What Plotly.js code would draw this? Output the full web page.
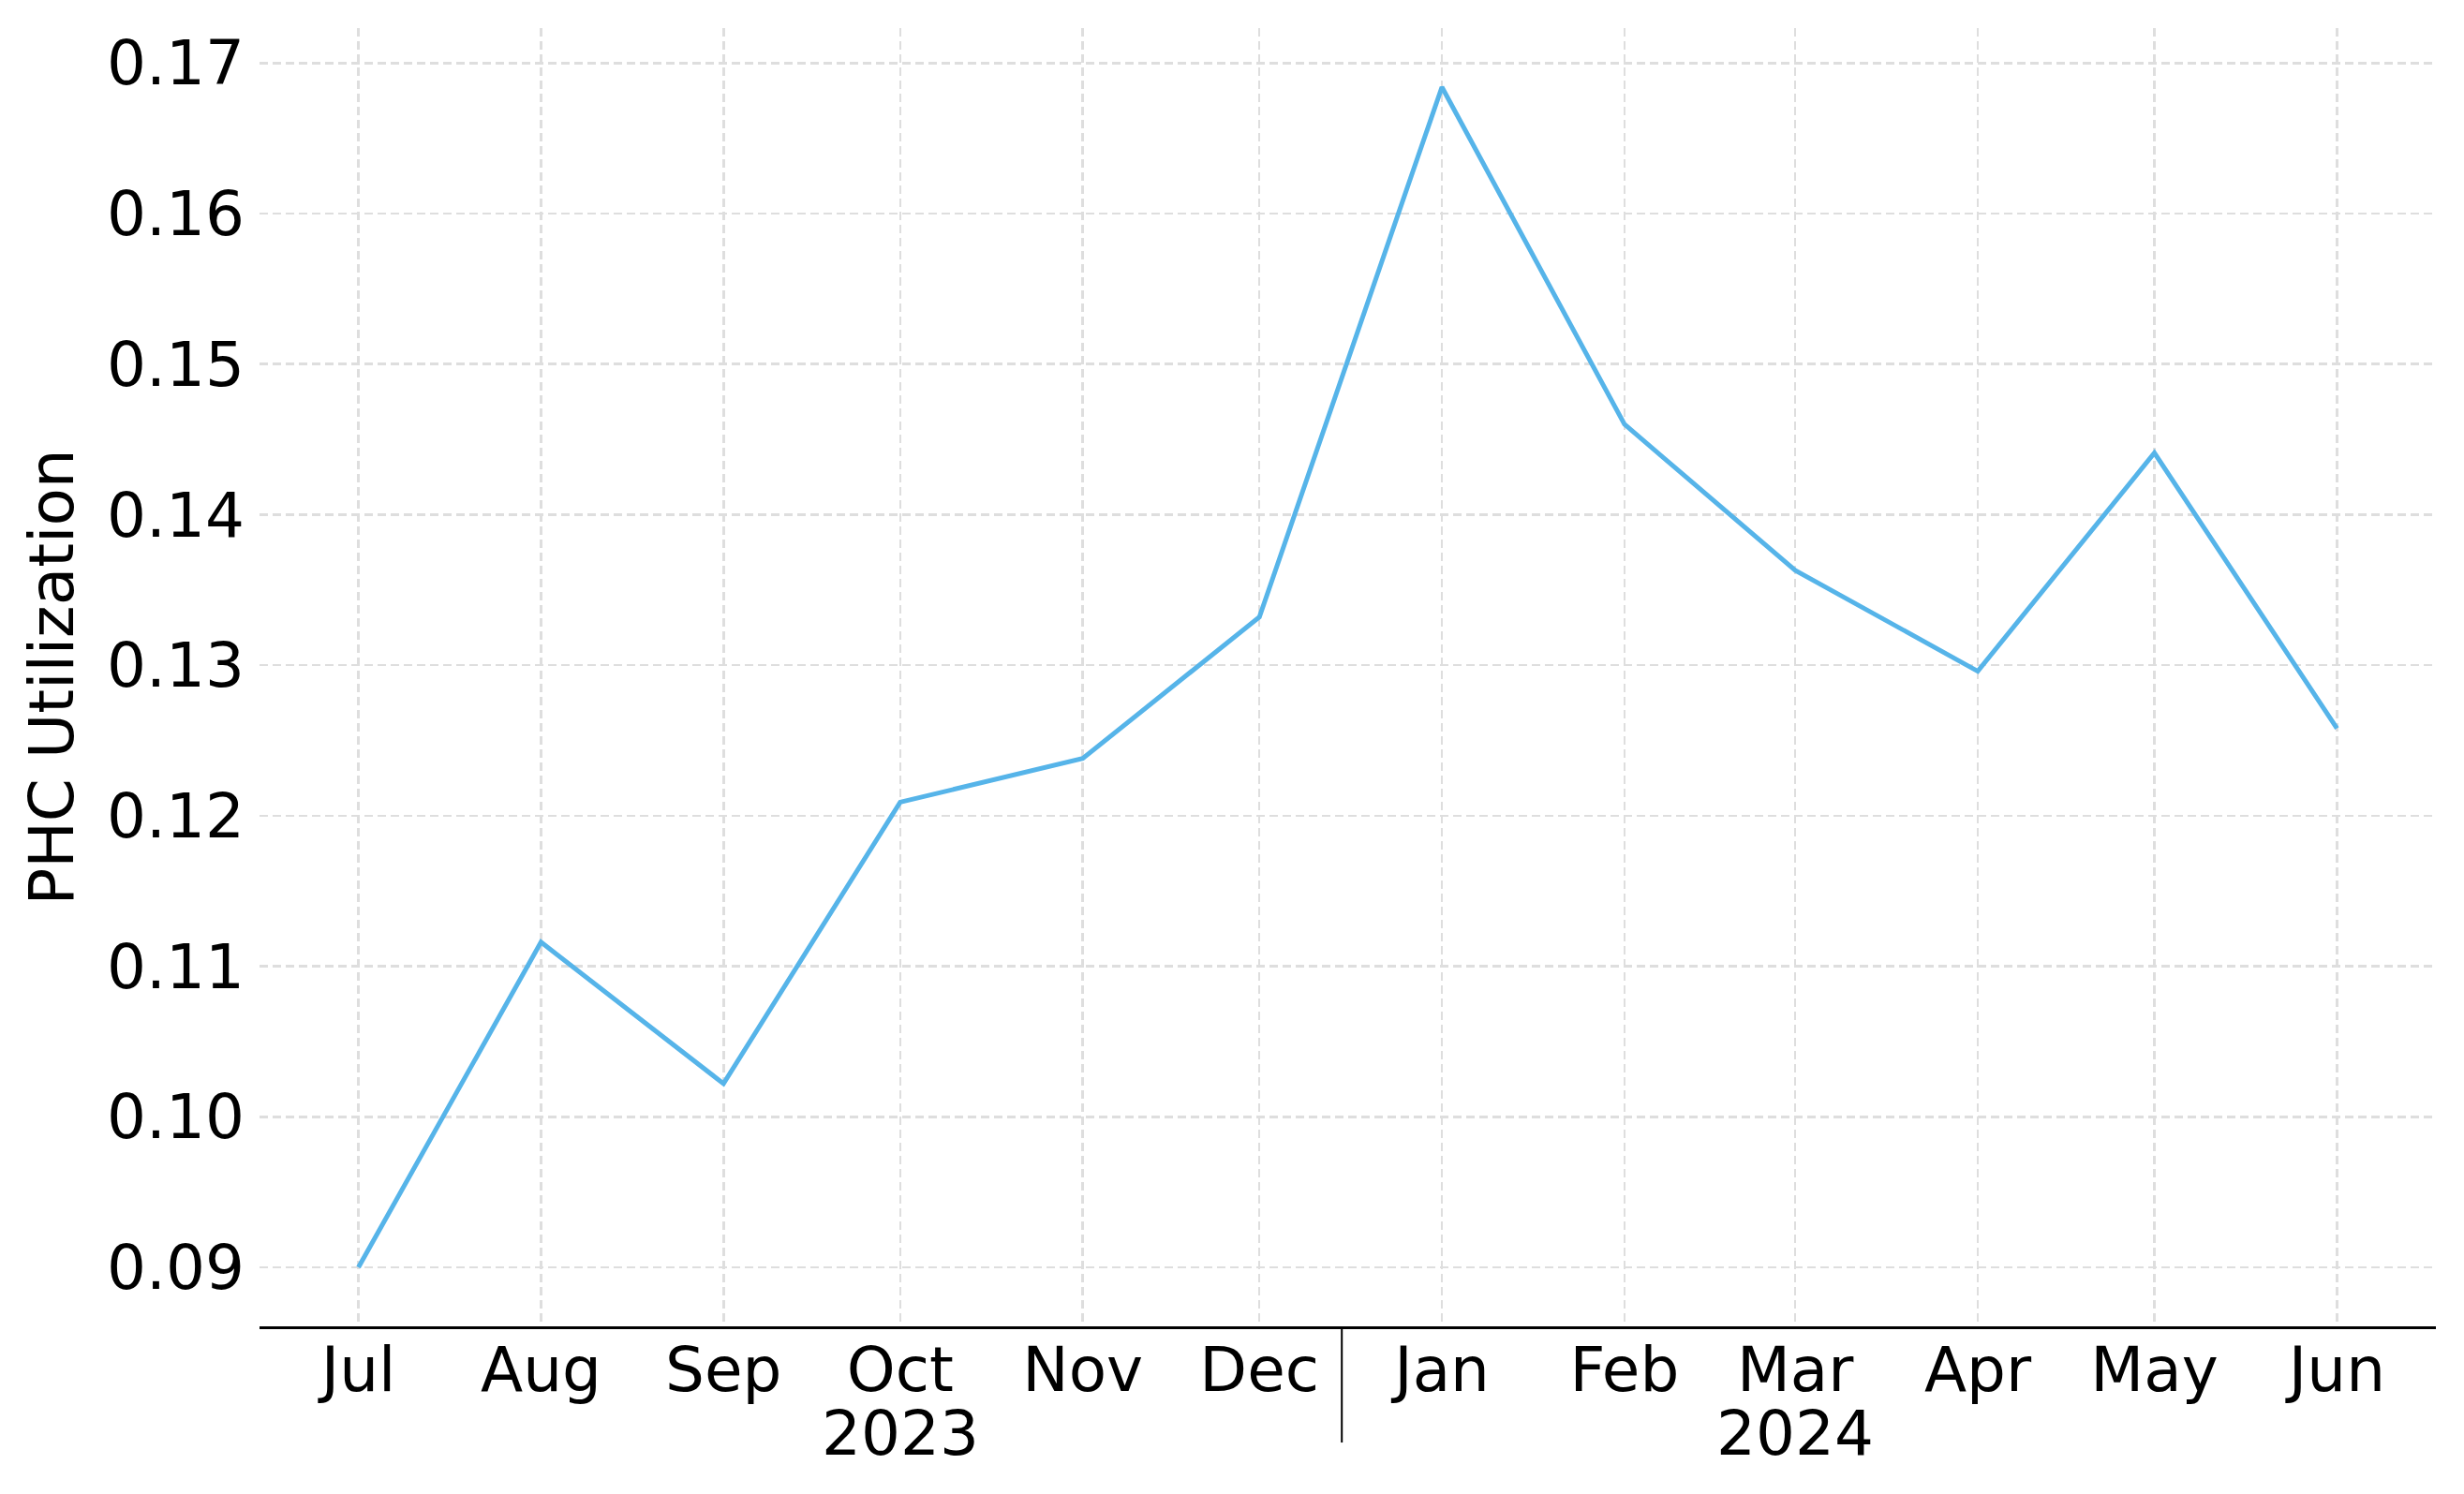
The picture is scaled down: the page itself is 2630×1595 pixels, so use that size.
<!DOCTYPE html>
<html>
<head>
<meta charset="utf-8">
<script src="https://cdn.plot.ly/plotly-3.0.1.min.js"></script>
<style>
  html, body { margin: 0; padding: 0; background: #ffffff; }
  #chart { width: 2630px; height: 1595px; }
</style>
</head>
<body>
<div id="chart"></div>
<script>
// ---- data ----
const dates = ['2023-07-01', '2023-08-01', '2023-09-01', '2023-10-01', '2023-11-01', '2023-12-01',
               '2024-01-01', '2024-02-01', '2024-03-01', '2024-04-01', '2024-05-01', '2024-06-01'];
const utilization = [0.0900, 0.1116, 0.1022, 0.1209, 0.1238, 0.1332,
                     0.1684, 0.1460, 0.1363, 0.1296, 0.1441, 0.1258];
const monthLabels = ['Jul', 'Aug', 'Sep', 'Oct', 'Nov', 'Dec', 'Jan', 'Feb', 'Mar', 'Apr', 'May', 'Jun'];
const yearLabels = ['2023', '2024'];
const yearLabelDates = ['2023-10-01', '2024-03-01'];
const yearSeparatorDate = '2023-12-15';
const yTickVals = [0.09, 0.10, 0.11, 0.12, 0.13, 0.14, 0.15, 0.16, 0.17];

const FONT = 'DejaVu Sans, Noto Sans, sans-serif';
const GRID = '#dedede';

const trace = {
  x: dates,
  y: utilization,
  type: 'scatter',
  mode: 'lines',
  line: { color: '#56B4E9', width: 5 },
  hoverinfo: 'x+y'
};

const annotations = yearLabels.map((t, i) => ({
  x: yearLabelDates[i], xref: 'x',
  y: -0.0535, yref: 'paper',
  yanchor: 'top', xanchor: 'center',
  text: t, showarrow: false,
  font: { family: FONT, size: 66, color: '#000000' }
}));

const layout = {
  width: 2630,
  height: 1595,
  paper_bgcolor: '#ffffff',
  plot_bgcolor: '#ffffff',
  margin: { l: 277, r: 30, t: 30, b: 179 },
  showlegend: false,
  font: { family: FONT, size: 66, color: '#000000' },
  xaxis: {
    type: 'date',
    range: ['2023-06-14 04:48', '2024-06-17 19:12'],
    tickmode: 'array',
    tickvals: dates,
    ticktext: monthLabels,
    ticks: '',
    ticklabelstandoff: -13,
    showline: true,
    linecolor: '#000000',
    linewidth: 3,
    showgrid: true,
    gridcolor: GRID,
    gridwidth: 2.5,
    griddash: '9px,5px',
    zeroline: false,
    tickfont: { family: FONT, size: 66, color: '#000000' }
  },
  yaxis: {
    range: [0.08608, 0.17232],
    tickmode: 'array',
    tickvals: yTickVals,
    tickformat: '.2f',
    ticks: '',
    ticklabelstandoff: 15,
    showline: false,
    showgrid: true,
    gridcolor: GRID,
    gridwidth: 2.5,
    griddash: '9px,5px',
    zeroline: false,
    tickfont: { family: FONT, size: 66, color: '#000000' },
    title: { text: 'PHC Utilization', font: { family: FONT, size: 66, color: '#000000' }, standoff: 13 }
  },
  shapes: [{
    type: 'line',
    xref: 'x', yref: 'paper',
    x0: yearSeparatorDate, x1: yearSeparatorDate,
    y0: 0, y1: -0.0895,
    line: { color: '#000000', width: 2 }
  }],
  annotations: annotations
};

Plotly.newPlot('chart', [trace], layout, { staticPlot: true, displayModeBar: false });
</script>
</body>
</html>
